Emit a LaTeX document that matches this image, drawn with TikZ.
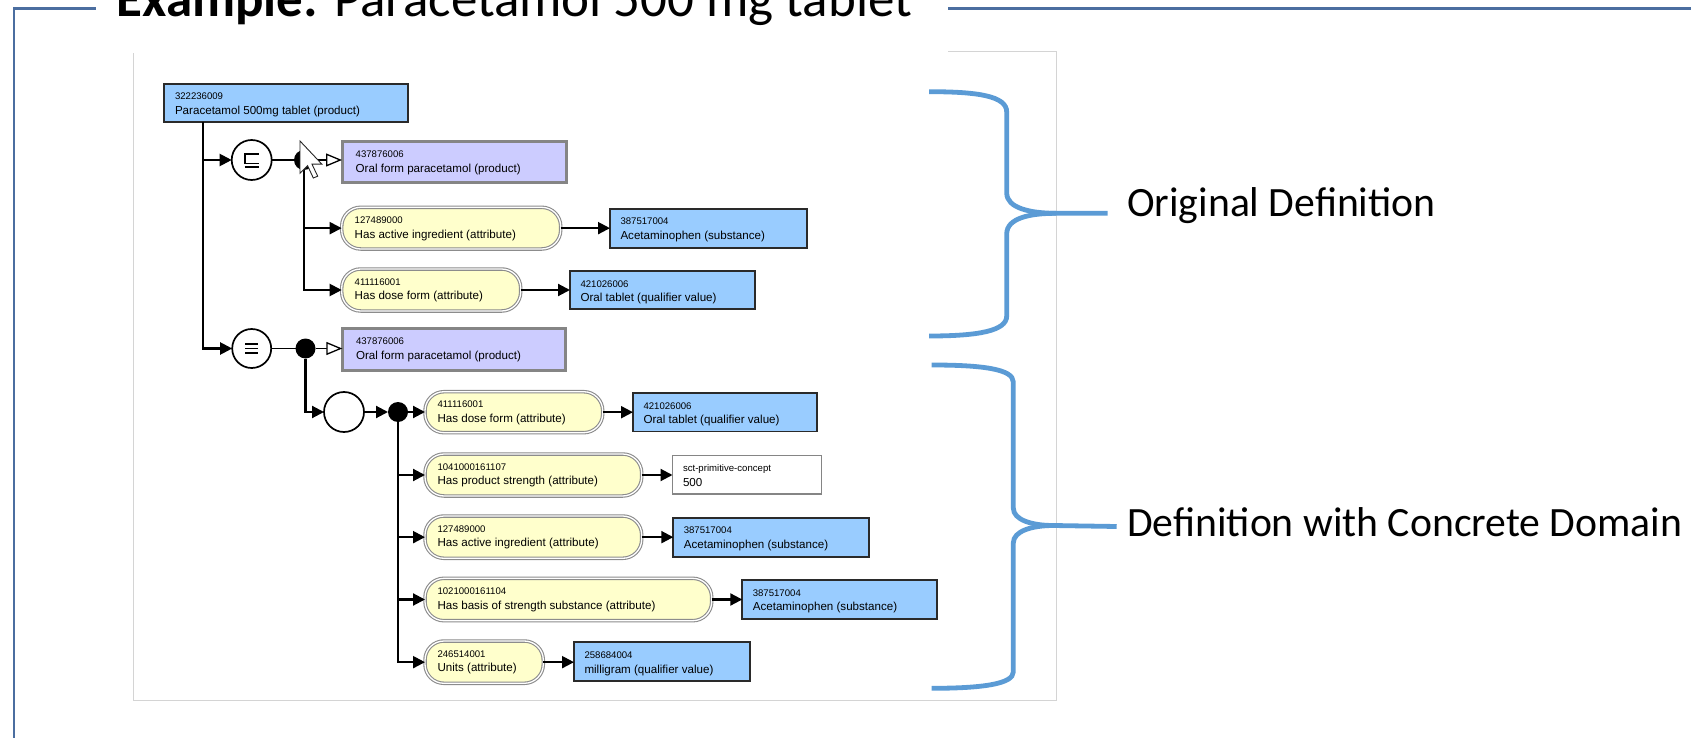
\documentclass[tikz,border=0pt]{standalone}
\usepackage{fontspec}
\setmainfont{Liberation Sans}
\newfontfamily\calibri{Carlito}
\usetikzlibrary{arrows.meta,calc}
\definecolor{bluefill}{HTML}{99CCFF}
\definecolor{purplefill}{HTML}{CCCCFF}
\definecolor{yellowfill}{HTML}{FFFFCC}
\definecolor{bracecol}{HTML}{5B9BD5}
\definecolor{framecol}{RGB}{75,110,160}
\definecolor{panelcol}{HTML}{D4D4D4}
\definecolor{boxline}{HTML}{2A2A2A}
\definecolor{purpleline}{HTML}{858585}
\definecolor{yellowline}{HTML}{8C8C8C}
\newcommand\numfont{\fontsize{9.6}{11}\selectfont}
\newcommand\lblfont{\fontsize{11.6}{13}\selectfont}
\newcommand\mkbox[9]{%
  \node[#2, minimum width={(#5-#3)*1pt}, minimum height={(#6-#4)*1pt}] (#1) at ({(#3+#5)/2},{(#4+#6)/2}) {};
  \node[txt, font=\numfont] (#1n) at ({#3+#7},{#4+16}) {#8};
  \node[txt, font=\lblfont] (#1l) at ({#3+#7},{#4+30.8}) {#9};
}
\tikzset{
  txt/.style={anchor=base west, inner sep=0pt, outer sep=0pt, text=black},
  bluebox/.style={draw=boxline, line width=1.8pt, fill=bluefill, inner sep=0pt, outer sep=0pt},
  purplebox/.style={draw=purpleline, line width=3pt, fill=purplefill, inner sep=0pt, outer sep=0pt},
  whitebox/.style={draw=purpleline, line width=1.4pt, fill=white, inner sep=0pt, outer sep=0pt},
  yellowbox/.style={draw=yellowline, double=white, double distance=1.3pt, line width=1.1pt, fill=yellowfill, rounded corners=19pt, inner sep=0pt, outer sep=0pt},
  opc/.style={circle, draw=black, line width=1.7pt, fill=white, minimum size=40pt, inner sep=0pt, outer sep=0pt},
  dotnode/.style={circle, fill=black, minimum size=20pt, inner sep=0pt, outer sep=0pt},
  conn/.style={line width=2.1pt, -{Triangle[length=12pt,width=12pt]}},
  thinline/.style={line width=1.3pt},
  openarr/.style={line width=1.3pt, -{Triangle[length=16pt,width=13pt,fill=white,line width=1.3pt]}},
  sym/.style={line width=1.8pt, line cap=butt},
  brace/.style={draw=bracecol, line width=4.8pt, line cap=butt},
  framel/.style={draw=framecol, line width=2.5pt},
  biglbl/.style={anchor=base west, inner sep=0pt, font=\calibri\fontsize{41.7}{48}\selectfont}
}
\begin{document}
\begin{tikzpicture}[x=1pt,y=-1pt]
\useasboundingbox (0,0) rectangle (1691,738);
% outer frame
\draw[framel] (14,740) -- (14,8.3) -- (1693,8.3);
% screenshot panel
\node[draw=panelcol, line width=1pt, minimum width=923.5pt, minimum height=648pt, anchor=north west, inner sep=0pt] (panel) at (132.5,51.5) {};
% title
\node[fill=white, inner sep=0pt, minimum width=852pt, minimum height=53.5pt, anchor=north west] (titlebg) at (96,-1) {};
\node[anchor=base west, inner sep=0pt, font=\calibri\fontsize{53}{61}\selectfont] (title) at (116.5,16.5) {\textbf{Example:} Paracetamol 500 mg tablet};

% top concept
\mkbox{top}{bluebox}{164}{84}{408}{122}{11}{322236009}{Paracetamol 500mg tablet (product)}
\coordinate (t0) at (203,122);

% subsumption row
\node[opc] (sub) at (251.7,160) {};
\draw[sym] ($(sub)+(7,-6)$) -- ++(-14,0) -- ++(0,9.5) -- ++(14,0);
\draw[sym] ($(sub)+(-7,7)$) -- ++(14,0);
\node[dotnode] (d1) at (304,160) {};
\mkbox{p1}{purplebox}{342}{141.5}{566}{182.5}{13.7}{437876006}{Oral form paracetamol (product)}
\draw[conn] (t0) |- (sub.west);
\draw[thinline] (sub) -- (d1);
\draw[openarr] (d1.east) -- (d1.east -| p1.west);

\mkbox{a1}{yellowbox}{341.7}{207.3}{560.7}{249}{13}{127489000}{Has active ingredient (attribute)}
\mkbox{a1v}{bluebox}{610}{209}{807}{248}{10.5}{387517004}{Acetaminophen (substance)}
\draw[conn] (d1) |- (a1.west);
\draw[conn] (a1.east) -- (a1.east -| a1v.west);

\mkbox{f1}{yellowbox}{341.7}{269}{520.7}{311}{13}{411116001}{Has dose form (attribute)}
\mkbox{f1v}{bluebox}{570}{271}{755}{309.3}{10.5}{421026006}{Oral tablet (qualifier value)}
\draw[conn] (d1) |- (f1.west);
\draw[conn] (f1.east) -- (f1.east -| f1v.west);

% equivalence row
\node[opc, minimum size=39pt] (eqv) at (251.7,348.5) {};
\draw[sym] ($(eqv)+(-6.5,-4.3)$) -- ++(13,0);
\draw[sym] ($(eqv)+(-6.5,0)$) -- ++(13,0);
\draw[sym] ($(eqv)+(-6.5,4.3)$) -- ++(13,0);
\node[dotnode] (d2) at (305.5,348.5) {};
\mkbox{p2}{purplebox}{342.3}{328.3}{565.7}{370}{13.7}{437876006}{Oral form paracetamol (product)}
\draw[conn] (t0) |- (eqv.west);
\draw[thinline] (eqv) -- (d2);
\draw[openarr] (d2.east) -- (d2.east -| p2.west);

% group
\node[opc] (grp) at (344,412) {};
\draw[conn] (d2) |- (grp.west);
\node[dotnode] (d3) at (398,412) {};
\draw[conn] (grp.east) -- (d3.west);

\mkbox{f2}{yellowbox}{425}{391.7}{602.7}{432.7}{12.5}{411116001}{Has dose form (attribute)}
\mkbox{f2v}{bluebox}{633}{393}{817}{431.5}{10.5}{421026006}{Oral tablet (qualifier value)}
\draw[conn] (d3.east) -- (d3.east -| f2.west);
\draw[conn] (f2.east) -- (f2.east -| f2v.west);

\mkbox{s}{yellowbox}{425}{454}{641.7}{496}{12.5}{1041000161107}{Has product strength (attribute)}
\mkbox{sv}{whitebox}{672.5}{455.7}{821.7}{494}{10.5}{sct-primitive-concept}{500}
\draw[conn] (d3) |- (s.west);
\draw[conn] (s.east) -- (s.east -| sv.west);

\mkbox{a2}{yellowbox}{425}{516}{641.7}{558.3}{12.5}{127489000}{Has active ingredient (attribute)}
\mkbox{a2v}{bluebox}{673.3}{517.7}{869.3}{556.7}{10.5}{387517004}{Acetaminophen (substance)}
\draw[conn] (d3) |- (a2.west);
\draw[conn] (a2.east) -- (a2.east -| a2v.west);

\mkbox{b}{yellowbox}{425}{578.3}{711.7}{620.7}{12.5}{1021000161104}{Has basis of strength substance (attribute)}
\mkbox{bv}{bluebox}{742.3}{580}{937}{619}{10.5}{387517004}{Acetaminophen (substance)}
\draw[conn] (d3) |- (b.west);
\draw[conn] (b.east) -- (b.east -| bv.west);

\mkbox{u}{yellowbox}{425}{641}{543.3}{683.3}{12.5}{246514001}{Units (attribute)}
\mkbox{uv}{bluebox}{574}{642.3}{750}{681}{10.5}{258684004}{milligram (qualifier value)}
\draw[conn] (d3) |- (u.west);
\draw[conn] (u.east) -- (u.east -| uv.west);

% mouse cursor
\draw[draw=black!85, line width=0.9pt, fill=white, line join=miter]
  (300,141) -- (300,173.3) -- (307.6,165.7) -- (313.3,178) -- (317.7,176.2) -- (312,164.2) -- (321.9,164.2) -- cycle;

% braces
\draw[brace] (929,91.7) .. controls (978,91.7) and (1006.7,96) .. (1006.7,112) -- (1006.7,193)
  .. controls (1006.7,208) and (1030,213.3) .. (1056,213.3) -- (1107.6,213.3);
\draw[brace] (1056,213.3) .. controls (1030,213.3) and (1006.7,218) .. (1006.7,234) -- (1006.7,316)
  .. controls (1006.7,331) and (978,336) .. (929,336);
\draw[brace] (931.7,365) .. controls (982,365) and (1013.3,369) .. (1013.3,382) -- (1013.3,508)
  .. controls (1013.3,520) and (1032,525.5) .. (1053.3,525.5) -- (1116.7,526.5);
\draw[brace] (1053.3,525.5) .. controls (1032,525.5) and (1013.3,531) .. (1013.3,543) -- (1013.3,672)
  .. controls (1013.3,684) and (982,688.3) .. (931.7,688.3);

\node[biglbl] (orig) at (1127,216.7) {Original Definition};
\node[biglbl] (cdom) at (1127,536.7) {Definition with Concrete Domain};
\end{tikzpicture}
\end{document}
